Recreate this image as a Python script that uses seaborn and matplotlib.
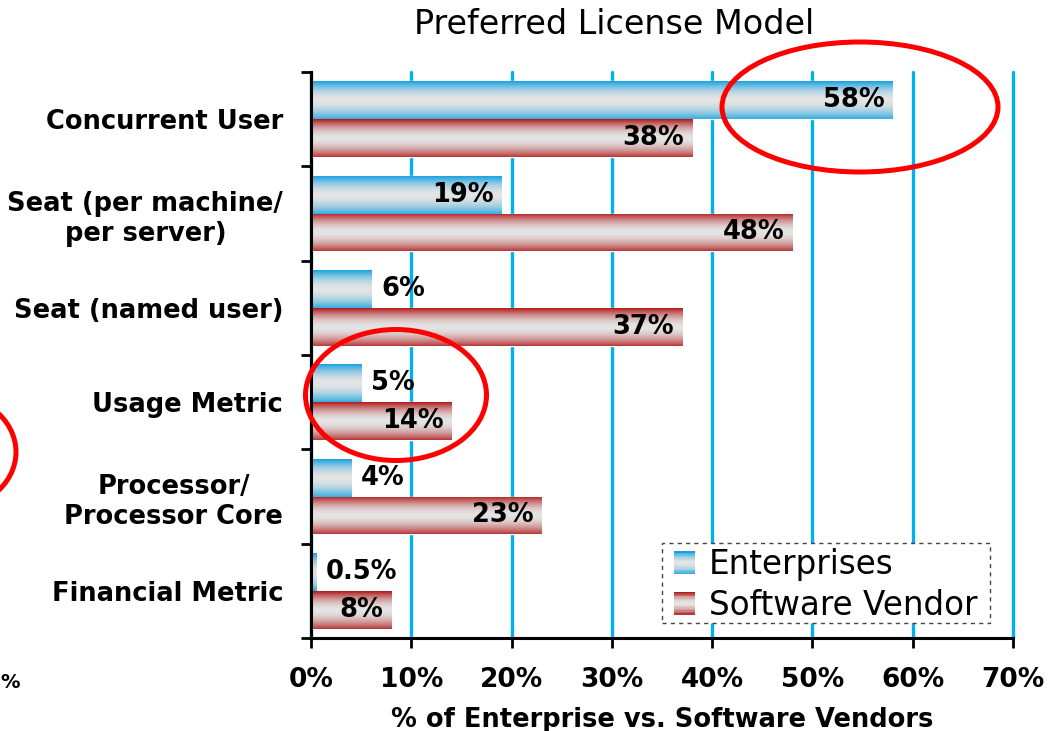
import numpy as np
import pandas as pd
import matplotlib
matplotlib.use("Agg")
import matplotlib.pyplot as plt
import seaborn as sns
from matplotlib.patches import Ellipse, Rectangle
from matplotlib.legend_handler import HandlerBase
from matplotlib.colors import to_rgb

# ---- data ----
categories = ["Concurrent User", "Seat (per machine/\nper server)", "Seat (named user)",
              "Usage Metric", "Processor/\nProcessor Core", "Financial Metric"]
enterprises = [58, 19, 6, 5, 4, 0.5]
vendors = [38, 48, 37, 14, 23, 8]
series = ["Enterprises", "Software Vendor"]
xticks = [0, 10, 20, 30, 40, 50, 60, 70]
title = "Preferred License Model"
xlabel = "% of Enterprise vs. Software Vendors"

BLUE = "#16a2e0"
RED = "#b01818"
CENTER = "#e4e4e4"
GRID = "#00b0f0"

df = pd.DataFrame({
    "category": categories * 2,
    "value": enterprises + vendors,
    "series": [series[0]] * len(categories) + [series[1]] * len(categories),
})

sns.set_theme(style="white")
plt.rcParams["font.family"] = ["DejaVu Sans"]
plt.rcParams["text.color"] = "black"
plt.rcParams["xtick.color"] = "black"
plt.rcParams["ytick.color"] = "black"
plt.rcParams["axes.labelcolor"] = "black"

W, H = 1063, 731
fig = plt.figure(figsize=(W / 100, H / 100), dpi=100)
fig.patch.set_facecolor("white")
ax = fig.add_axes([311 / W, 1 - 638 / H, (1013 - 311) / W, (638 - 72) / H])
ax.set_facecolor("white")

sns.barplot(data=df, y="category", x="value", hue="series", orient="h",
            order=categories, hue_order=series, palette=[BLUE, RED],
            width=0.8, saturation=1, legend=False, ax=ax, zorder=2)


def grad_colors(edge, n=200):
    e = np.array(to_rgb(edge))
    c = np.array(to_rgb(CENTER))
    t = np.linspace(0, 1, n)
    w = np.abs(2 * t - 1) ** 1.8
    w = np.where(t > 0.5, w * 0.85, w)
    return c[None, :] * (1 - w[:, None]) + e[None, :] * w[:, None]


for cont, edge in zip(ax.containers, [BLUE, RED]):
    img = grad_colors(edge)[:, None, :]
    for p in cont:
        x0, y0 = p.get_x(), p.get_y()
        w, h = p.get_width(), p.get_height()
        im = ax.imshow(img, extent=[x0, x0 + w, y0 + h, y0], aspect="auto",
                       interpolation="bilinear", zorder=2.5, origin="upper")
        im.set_clip_path(p)

# value labels
LBL = 18.5
for cont, vals in zip(ax.containers, [enterprises, vendors]):
    for p, v in zip(cont, vals):
        yc = p.get_y() + p.get_height() / 2
        txt = f"{v:g}%"
        if v >= 7:
            ax.text(v - 0.8, yc, txt, ha="right", va="center", fontsize=LBL,
                    fontweight="bold", color="black", zorder=5)
        else:
            ax.text(v + 1.0, yc, txt, ha="left", va="center", fontsize=LBL,
                    fontweight="bold", color="black", zorder=5)

ax.set_xlim(0, 70)
ax.set_ylim(len(categories) - 0.5, -0.5)

ax.set_xticks(xticks)
ax.set_xticklabels([f"{t}%" for t in xticks], fontsize=19, fontweight="bold")
ax.set_yticks(np.arange(-0.5, len(categories), 1))
ax.set_yticklabels([""] * (len(categories) + 1))
ax.set_yticks(np.arange(len(categories)), minor=True)
ax.set_yticklabels(categories, minor=True, fontsize=18.5, fontweight="bold")
for lbl in ax.get_yticklabels(minor=True):
    lbl.set_multialignment("center")

ax.tick_params(axis="y", which="major", length=7, width=2, direction="out", left=True, color="black")
ax.tick_params(axis="y", which="minor", length=0, pad=20)
ax.tick_params(axis="x", which="major", length=7, width=2, direction="out", bottom=True,
               pad=14, color="black")

ax.grid(axis="x", color=GRID, lw=2.4)
ax.grid(axis="y", visible=False)
for gl in ax.get_xgridlines():
    gl.set_clip_on(False)
ax.set_axisbelow(True)
for s in ["top", "right"]:
    ax.spines[s].set_visible(False)
for s in ["left", "bottom"]:
    ax.spines[s].set_color("black")
    ax.spines[s].set_linewidth(2.2)
    ax.spines[s].set_zorder(6)

ax.set_xlabel(xlabel, fontsize=18.5, fontweight="bold", labelpad=10)
ax.set_ylabel("")

fig.text(614 / W, 1 - 24 / H, title, ha="center", va="center", fontsize=24)
# fragment of the neighbouring chart's axis label at the left edge
fig.text(0.5 / W, 1 - 683 / H, "%", ha="left", va="center", fontsize=14, fontweight="bold")


class GradHandler(HandlerBase):
    def __init__(self, edge):
        super().__init__()
        self.edge = edge

    def create_artists(self, legend, orig_handle, xdescent, ydescent, width, height,
                       fontsize, trans):
        cols = grad_colors(self.edge, 16)
        n = len(cols)
        arts = []
        for i, c in enumerate(cols):
            r = Rectangle((-xdescent, -ydescent + height * (1 - (i + 1) / n)), width,
                          height / n * 1.05, facecolor=c, edgecolor="none", transform=trans)
            arts.append(r)
        return arts


# dashed legend box (drawn in figure pixels, inside the axes' artist list)
box = Rectangle((662 / W, 1 - 623 / H), (990 - 662) / W, (623 - 543) / H,
                transform=fig.transFigure, facecolor="white", edgecolor="#444444",
                lw=1.0, linestyle=(0, (3, 3)), zorder=6.5, clip_on=False)
ax.add_artist(box)

h1 = Rectangle((0, 0), 1, 1)
h2 = Rectangle((0, 0), 1, 1)
leg = ax.legend([h1, h2], series, handler_map={h1: GradHandler(BLUE), h2: GradHandler(RED)},
                loc="center", bbox_to_anchor=(826 / W, 1 - 585 / H),
                bbox_transform=fig.transFigure, fontsize=23.5, frameon=False,
                handlelength=0.62, handleheight=0.7, handletextpad=0.45, borderpad=0,
                labelspacing=0.22, borderaxespad=0)
leg.set_zorder(7)

# highlight ellipses
for cx, cy, ew, eh in [(860, 107, 276, 130), (396, 395, 181, 131), (-59, 452, 150, 120)]:
    e = Ellipse((cx / W, 1 - cy / H), ew / W, eh / H, transform=fig.transFigure,
                facecolor="none", edgecolor="#ff0000", lw=3.6, zorder=10, clip_on=False)
    fig.add_artist(e)

fig.savefig("out.png", dpi=100)
